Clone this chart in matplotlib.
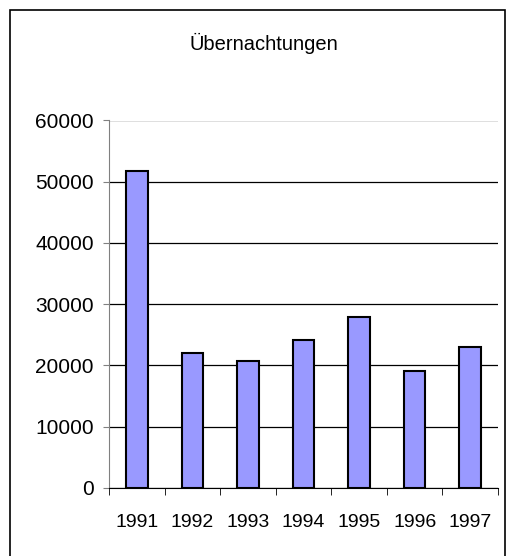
import matplotlib
matplotlib.use("Agg")
import matplotlib.pyplot as plt
from matplotlib.patches import Rectangle
import numpy as np

years = ["1991", "1992", "1993", "1994", "1995", "1996", "1997"]
values = [51700, 22050, 20700, 24100, 27900, 19000, 23050]
yticks = [0, 10000, 20000, 30000, 40000, 50000, 60000]
title = "Übernachtungen"

plt.rcParams['font.family'] = ['Liberation Sans', 'DejaVu Sans']

W, H = 507, 556
fig = plt.figure(figsize=(W/100, H/100), dpi=100)
fig.patch.set_facecolor('white')

# figure border
fig.patches.append(Rectangle((10/W, -0.01), 495/W, 1 - 10/H + 0.01, transform=fig.transFigure,
                             fill=False, edgecolor='black', linewidth=1.2))

ax = fig.add_axes([109/W, 1 - 487.7/H, (498-109)/W, (487.7-120.5)/H])
x = np.arange(len(years))
ax.bar(x, values, width=0.39, color='#9999FF', edgecolor='black', linewidth=1.5, zorder=3)

ax.set_xlim(-0.5, len(years) - 0.5)
ax.set_ylim(0, 60000)
ax.set_yticks(yticks)
ax.set_yticklabels([str(v) for v in yticks], fontsize=15)
ax.yaxis.grid(True, color='black', linewidth=0.9, zorder=0)
ax.set_axisbelow(True)

ax.set_xticks(x)
ax.set_xticklabels(years, fontsize=14)
ax.tick_params(axis='x', length=0, pad=19)
ax.set_xticks(np.arange(-0.5, len(years)), minor=True)
ax.tick_params(axis='x', which='minor', length=5, direction='out', color='black')
ax.tick_params(axis='y', length=4.3, direction='out', color='#808080', pad=6.5)

for s in ['top', 'right']:
    ax.spines[s].set_visible(False)
ax.spines['left'].set_color('#808080')
ax.spines['bottom'].set_color('black')

fig.text(264/W, 1 - 50/H, title, ha='center', va='baseline', fontsize=14.5)

fig.savefig("out.png", dpi=100)
